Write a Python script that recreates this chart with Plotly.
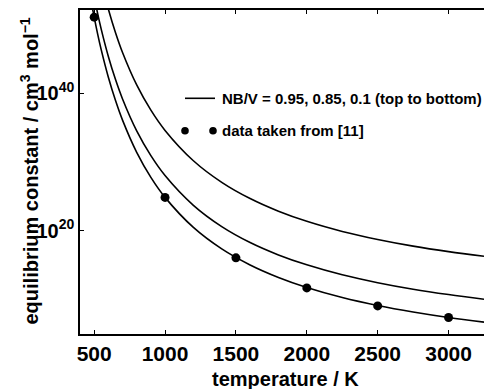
import plotly.graph_objects as go

# temperature grid (K) at which the curves were read
T_curve = [480, 500, 525, 550, 600, 650, 700, 800, 900, 1000, 1200, 1400,
           1600, 1800, 2000, 2250, 2500, 2750, 3000, 3250]
# log10 of equilibrium constant
logK_top = [None, None, None, 56.23, 52.23, 48.84, 45.93, 41.21, 37.54, 34.60,
            30.19, 27.05, 24.69, 22.85, 21.38, 19.91, 18.74, 17.77, 16.97, 16.30]
logK_mid = [56.17, 54.01, 51.54, 49.29, 45.35, 42.02, 39.17, 34.53, 30.93, 28.04,
            23.71, 20.62, 18.30, 16.50, 15.06, 13.61, 12.46, 11.51, 10.73, 10.06]
logK_bot = [53.24, 51.06, 48.56, 46.30, 42.33, 38.97, 36.09, 31.41, 27.77, 24.86,
            20.49, 17.37, 15.04, 13.22, 11.76, 10.30, 9.14, 8.19, 7.39, 6.72]

T_data = [500, 1000, 1500, 2000, 2500, 3000]
logK_data = [51.06, 24.86, 16.07, 11.70, 9.08, 7.40]

x_ticks = [500, 1000, 1500, 2000, 2500, 3000]
y_tick_exp = [20, 40]

FONT = "Liberation Sans, Arial, sans-serif"

def to_val(lst):
    return [None if v is None else 10.0 ** v for v in lst]

fig = go.Figure()
for lk in (logK_top, logK_mid, logK_bot):
    xs = [t for t, v in zip(T_curve, lk) if v is not None]
    ys = to_val([v for v in lk if v is not None])
    fig.add_trace(go.Scatter(x=xs, y=ys, mode="lines", line=dict(color="black", width=1.6, shape="spline"),
                             showlegend=False, hoverinfo="skip"))
fig.add_trace(go.Scatter(x=T_data, y=to_val(logK_data), mode="markers",
                         marker=dict(color="black", size=9), showlegend=False, cliponaxis=False))

def px_x(p):
    return (p - 80) / 404.0

def px_y(p):
    return (334 - p) / 324.0

# manual legend (MATLAB style)
shapes = [dict(type="line", xref="paper", yref="paper", x0=px_x(185), x1=px_x(215),
               y0=px_y(98.3), y1=px_y(98.3), line=dict(color="black", width=1.6))]
for cx in (185, 213):
    shapes.append(dict(type="circle", xref="paper", yref="paper", xsizemode="pixel", ysizemode="pixel",
                       xanchor=px_x(cx), yanchor=px_y(130.7), x0=-3.8, x1=3.8, y0=-3.8, y1=3.8,
                       fillcolor="black", line=dict(color="black", width=0)))
annotations = [
    dict(text="NB/V = 0.95, 0.85, 0.1 (top to bottom)", xref="paper", yref="paper",
         x=px_x(220), y=px_y(98.3), xanchor="left", yanchor="middle", showarrow=False,
         font=dict(family=FONT, size=15, color="black", weight="bold")),
    dict(text="data taken from [11]", xref="paper", yref="paper",
         x=px_x(220), y=px_y(130.7), xanchor="left", yanchor="middle", showarrow=False,
         font=dict(family=FONT, size=15, color="black", weight="bold")),
    dict(text="temperature / K", xref="paper", yref="paper",
         x=px_x(285.8), y=px_y(378.5), xanchor="center", yanchor="middle", showarrow=False,
         font=dict(family=FONT, size=20, color="black", weight="bold")),
    dict(text="equilibrium constant / cm<sup>3</sup> mol<sup>\u22121</sup>", xref="paper", yref="paper",
         x=px_x(29), y=px_y(171.5), xanchor="center", yanchor="middle", showarrow=False,
         textangle=-90, font=dict(family=FONT, size=20, color="black", weight="bold")),
]

fig.update_layout(
    width=484, height=389,
    margin=dict(l=80, r=0, t=10, b=55),
    paper_bgcolor="white", plot_bgcolor="white",
    font=dict(family=FONT, color="black", weight="bold"),
    shapes=shapes, annotations=annotations,
    xaxis=dict(range=[400, 3250], tickvals=x_ticks, ticktext=[str(v) for v in x_ticks],
               ticks="inside", ticklen=4, tickcolor="black", showline=True, linecolor="black",
               linewidth=1.5, mirror="ticks", showgrid=False, zeroline=False, automargin=False,
               tickfont=dict(size=21, family=FONT, weight="bold")),
    yaxis=dict(type="log", range=[5.0, 52.1], tickvals=[10.0 ** e for e in y_tick_exp],
               ticktext=["10<sup>%d</sup>" % e for e in y_tick_exp],
               ticks="inside", ticklen=4, tickcolor="black", showline=True, linecolor="black",
               linewidth=1.5, mirror=False, showgrid=False, zeroline=False, automargin=False,
               tickfont=dict(size=20, family=FONT, weight="bold")),
)

# remove the page's default body margin / scrollbars so the canvas fills the window
fig.write_html("out.html", config={"displayModeBar": False},
               post_script="document.body.style.margin='0';document.body.style.overflow='hidden';")
